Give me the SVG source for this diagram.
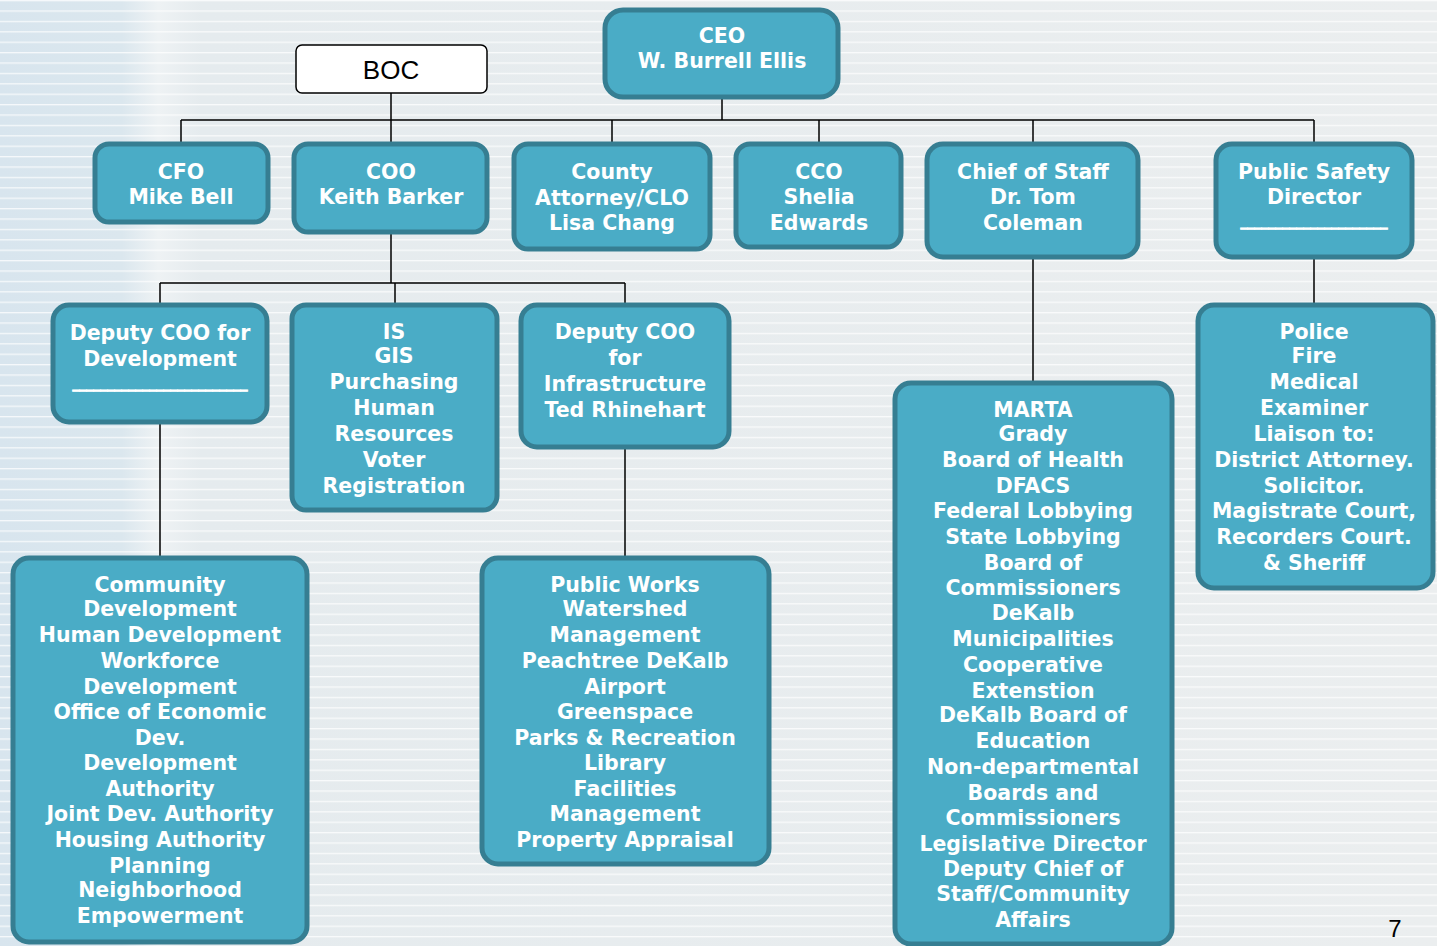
<svg xmlns="http://www.w3.org/2000/svg" width="1437" height="946" viewBox="0 0 1437 946">
<defs>
<linearGradient id="bg" x1="0" y1="0" x2="1" y2="0">
<stop offset="0" stop-color="#d8e5ee"/>
<stop offset="0.085" stop-color="#dbe7ee"/>
<stop offset="0.11" stop-color="#eef2f4"/>
<stop offset="0.14" stop-color="#e5ebee"/>
<stop offset="1" stop-color="#ebeeef"/>
</linearGradient>
<pattern id="stripes" width="20" height="10.4" patternUnits="userSpaceOnUse">
<rect x="0" y="0" width="20" height="1.3" fill="#ffffff" opacity="0.75"/>
</pattern>
<style>
.box{fill:#4aacc6;stroke:#367e92;stroke-width:5}
.t{font-family:"DejaVu Sans",Verdana,sans-serif;font-weight:bold;font-size:20.5px;fill:#ffffff;text-anchor:middle}
.u{font-family:"DejaVu Sans",Verdana,sans-serif;font-weight:bold;font-size:14px;fill:#ffffff;stroke:#ffffff;stroke-width:0.9;text-anchor:middle}
.ln{stroke:#000000;stroke-width:1.5;fill:none}
</style>
</defs>
<rect width="1437" height="946" fill="url(#bg)"/>
<rect width="1437" height="946" fill="url(#stripes)"/>

<g id="connectors">
<path class="ln" d="M722 97 V120 M181 120 H1314 M181 120 V144 M391 93 V144 M612 120 V144 M819 120 V144 M1033 120 V144 M1314 120 V144"/>
<path class="ln" d="M391 232 V283 M160 283 H625 M160 283 V305 M395 283 V305 M625 283 V305"/>
<path class="ln" d="M160 422 V558 M625 447 V558 M1033 257 V383 M1314 257 V305"/>
</g>

<g id="boc">
<rect x="296" y="45" width="191" height="48" rx="6" fill="#ffffff" stroke="#000000" stroke-width="1.5"/>
<text x="391" y="79" font-family="Liberation Sans, Arial, sans-serif" font-size="26" text-anchor="middle" fill="#000000">BOC</text>
</g>

<g id="ceo">
<rect class="box" x="605" y="10" width="233" height="87" rx="18"/>
<text class="t"><tspan x="722" y="43">CEO</tspan><tspan x="722" y="68">W. Burrell Ellis</tspan></text>
</g>

<g id="cfo">
<rect class="box" x="95" y="144" width="173" height="78" rx="14"/>
<text class="t"><tspan x="181" y="179">CFO</tspan><tspan x="181" y="204">Mike Bell</tspan></text>
</g>

<g id="coo">
<rect class="box" x="294" y="144" width="193" height="88" rx="14"/>
<text class="t"><tspan x="391" y="179">COO</tspan><tspan x="391" y="204">Keith Barker</tspan></text>
</g>

<g id="county">
<rect class="box" x="514" y="144" width="196" height="105" rx="14"/>
<text class="t"><tspan x="612" y="179">County</tspan><tspan x="612" y="205">Attorney/CLO</tspan><tspan x="612" y="230">Lisa Chang</tspan></text>
</g>

<g id="cco">
<rect class="box" x="736" y="144" width="165" height="103" rx="14"/>
<text class="t"><tspan x="819" y="179">CCO</tspan><tspan x="819" y="204">Shelia</tspan><tspan x="819" y="230">Edwards</tspan></text>
</g>

<g id="chief-of-staff">
<rect class="box" x="927" y="144" width="211" height="113" rx="16"/>
<text class="t"><tspan x="1033" y="179">Chief of Staff</tspan><tspan x="1033" y="204">Dr. Tom</tspan><tspan x="1033" y="230">Coleman</tspan></text>
</g>

<g id="public-safety">
<rect class="box" x="1216" y="144" width="196" height="113" rx="16"/>
<text class="t"><tspan x="1314" y="179">Public Safety</tspan><tspan x="1314" y="204">Director</tspan></text>
<text class="u" x="1314" y="226">_____________________</text>
</g>

<g id="deputy-dev">
<rect class="box" x="53" y="305" width="214" height="117" rx="16"/>
<text class="t"><tspan x="160" y="340">Deputy COO for</tspan><tspan x="160" y="366">Development</tspan></text>
<text class="u" x="160" y="388">_________________________</text>
</g>

<g id="is">
<rect class="box" x="292" y="305" width="205" height="205" rx="14"/>
<text class="t"><tspan x="394" y="339">IS</tspan><tspan x="394" y="363">GIS</tspan><tspan x="394" y="389">Purchasing</tspan><tspan x="394" y="415">Human</tspan><tspan x="394" y="441">Resources</tspan><tspan x="394" y="467">Voter</tspan><tspan x="394" y="493">Registration</tspan></text>
</g>

<g id="deputy-infra">
<rect class="box" x="521" y="305" width="208" height="142" rx="16"/>
<text class="t"><tspan x="625" y="339">Deputy COO</tspan><tspan x="625" y="365">for</tspan><tspan x="625" y="391">Infrastructure</tspan><tspan x="625" y="417">Ted Rhinehart</tspan></text>
</g>

<g id="police">
<rect class="box" x="1198" y="305" width="235" height="283" rx="16"/>
<text class="t"><tspan x="1314" y="339">Police</tspan><tspan x="1314" y="363">Fire</tspan><tspan x="1314" y="389">Medical</tspan><tspan x="1314" y="415">Examiner</tspan><tspan x="1314" y="441">Liaison to:</tspan><tspan x="1314" y="467">District Attorney.</tspan><tspan x="1314" y="493">Solicitor.</tspan><tspan x="1314" y="518">Magistrate Court,</tspan><tspan x="1314" y="544">Recorders Court.</tspan><tspan x="1314" y="570">&amp; Sheriff</tspan></text>
</g>

<g id="community">
<rect class="box" x="13" y="558" width="294" height="384" rx="16"/>
<text class="t"><tspan x="160" y="592">Community</tspan><tspan x="160" y="616">Development</tspan><tspan x="160" y="642">Human Development</tspan><tspan x="160" y="668">Workforce</tspan><tspan x="160" y="694">Development</tspan><tspan x="160" y="719">Office of Economic</tspan><tspan x="160" y="745">Dev.</tspan><tspan x="160" y="770">Development</tspan><tspan x="160" y="796">Authority</tspan><tspan x="160" y="821">Joint Dev. Authority</tspan><tspan x="160" y="847">Housing Authority</tspan><tspan x="160" y="873">Planning</tspan><tspan x="160" y="897">Neighborhood</tspan><tspan x="160" y="923">Empowerment</tspan></text>
</g>

<g id="public-works">
<rect class="box" x="482" y="558" width="287" height="306" rx="16"/>
<text class="t"><tspan x="625" y="592">Public Works</tspan><tspan x="625" y="616">Watershed</tspan><tspan x="625" y="642">Management</tspan><tspan x="625" y="668">Peachtree DeKalb</tspan><tspan x="625" y="694">Airport</tspan><tspan x="625" y="719">Greenspace</tspan><tspan x="625" y="745">Parks &amp; Recreation</tspan><tspan x="625" y="770">Library</tspan><tspan x="625" y="796">Facilities</tspan><tspan x="625" y="821">Management</tspan><tspan x="625" y="847">Property Appraisal</tspan></text>
</g>

<g id="marta">
<rect class="box" x="895" y="383" width="277" height="561" rx="16"/>
<text class="t"><tspan x="1033" y="417">MARTA</tspan><tspan x="1033" y="441">Grady</tspan><tspan x="1033" y="467">Board of Health</tspan><tspan x="1033" y="493">DFACS</tspan><tspan x="1033" y="518">Federal Lobbying</tspan><tspan x="1033" y="544">State Lobbying</tspan><tspan x="1033" y="570">Board of</tspan><tspan x="1033" y="595">Commissioners</tspan><tspan x="1033" y="620">DeKalb</tspan><tspan x="1033" y="646">Municipalities</tspan><tspan x="1033" y="672">Cooperative</tspan><tspan x="1033" y="698">Extenstion</tspan><tspan x="1033" y="722">DeKalb Board of</tspan><tspan x="1033" y="748">Education</tspan><tspan x="1033" y="774">Non-departmental</tspan><tspan x="1033" y="800">Boards and</tspan><tspan x="1033" y="825">Commissioners</tspan><tspan x="1033" y="851">Legislative Director</tspan><tspan x="1033" y="876">Deputy Chief of</tspan><tspan x="1033" y="901">Staff/Community</tspan><tspan x="1033" y="927">Affairs</tspan></text>
</g>

<text x="1395" y="937" font-family="Liberation Sans, Arial, sans-serif" font-size="24" text-anchor="middle" fill="#000000">7</text>
</svg>
